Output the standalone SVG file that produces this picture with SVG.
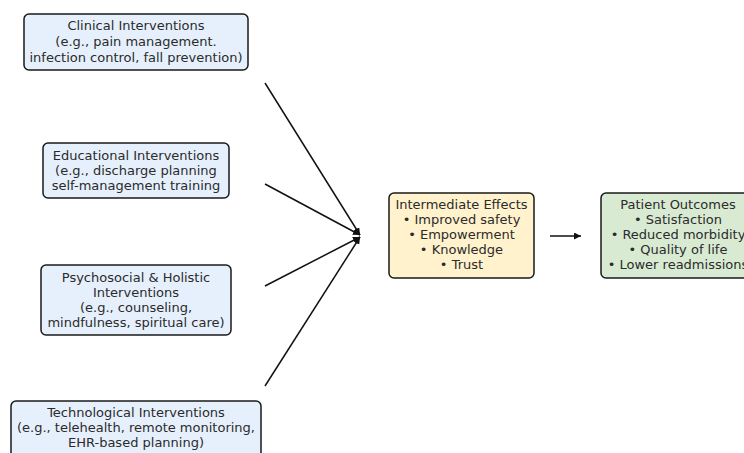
<svg xmlns="http://www.w3.org/2000/svg" width="744" height="453" viewBox="0 0 744 453">
<defs>
<style>
.box{stroke:#1a1a1a;stroke-width:1.5}
.blue{fill:#e6f0fc}
.yel{fill:#fff2cc}
.grn{fill:#d9ead3}
text{font-family:"DejaVu Sans",sans-serif;font-size:13px;fill:#2b2b2b;text-anchor:middle}
.conn line{stroke:#111;stroke-width:1.5}
</style>
<marker id="ah" viewBox="0 0 10 10" refX="10" refY="5" markerWidth="7" markerHeight="7" orient="auto" markerUnits="userSpaceOnUse">
<path d="M0,0 L10,5 L0,10 z" fill="#111"/>
</marker>
</defs>
<rect width="744" height="453" fill="#fff"/>
<g id="clinical">
<rect class="box blue" x="24" y="14" width="224" height="56" rx="5"/>
<text x="136" y="30">Clinical Interventions</text>
<text x="136" y="46">(e.g., pain management.</text>
<text x="136" y="62">infection control, fall prevention)</text>
</g>
<g id="educational">
<rect class="box blue" x="43" y="143" width="186" height="55" rx="5"/>
<text x="136" y="160">Educational Interventions</text>
<text x="136" y="175">(e.g., discharge planning</text>
<text x="136" y="190">self-management training</text>
</g>
<g id="psychosocial">
<rect class="box blue" x="41" y="265" width="190" height="70" rx="5"/>
<text x="136" y="282">Psychosocial &amp; Holistic</text>
<text x="136" y="297">Interventions</text>
<text x="136" y="312">(e.g., counseling,</text>
<text x="136" y="327">mindfulness, spiritual care)</text>
</g>
<g id="technological">
<rect class="box blue" x="11" y="401" width="250" height="60" rx="5"/>
<text x="136" y="417">Technological Interventions</text>
<text x="136" y="432">(e.g., telehealth, remote monitoring,</text>
<text x="136" y="447">EHR-based planning)</text>
</g>
<g id="intermediate">
<rect class="box yel" x="389" y="193" width="145" height="85" rx="5"/>
<text x="461.5" y="209">Intermediate Effects</text>
<text x="461.5" y="224">• Improved safety</text>
<text x="461.5" y="239">• Empowerment</text>
<text x="461.5" y="254">• Knowledge</text>
<text x="461.5" y="269">• Trust</text>
</g>
<g id="outcomes">
<rect class="box grn" x="601" y="193" width="160" height="85" rx="5"/>
<text x="678" y="209">Patient Outcomes</text>
<text x="678" y="224">• Satisfaction</text>
<text x="678" y="239">• Reduced morbidity</text>
<text x="678" y="254">• Quality of life</text>
<text x="678" y="269">• Lower readmissions</text>
</g>
<g class="conn" id="connectors">
<line x1="265" y1="83" x2="360" y2="235" marker-end="url(#ah)"/>
<line x1="265" y1="184" x2="360" y2="235" marker-end="url(#ah)"/>
<line x1="265" y1="286" x2="360" y2="237" marker-end="url(#ah)"/>
<line x1="265" y1="386" x2="360" y2="237" marker-end="url(#ah)"/>
<line x1="550" y1="236" x2="581" y2="236" marker-end="url(#ah)"/>
</g>
</svg>
